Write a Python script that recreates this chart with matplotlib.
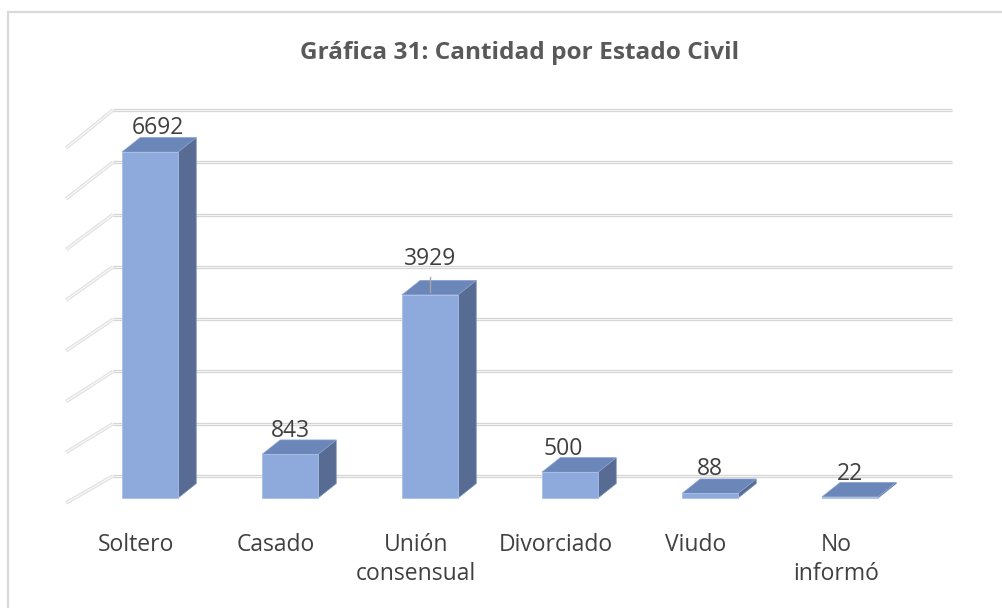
import numpy as np
import matplotlib.pyplot as plt
from matplotlib.patches import Rectangle

plt.rcParams['font.family'] = ['Open Sans', 'DejaVu Sans']

# data
categories = ['Soltero', 'Casado', 'Unión\nconsensual', 'Divorciado', 'Viudo', 'No\ninformó']
counts = [6692, 843, 3929, 500, 88, 22]
grid_vals = np.arange(0, 8000, 1000)

# colours of the fake 3d bars
FRONT = '#8eaadc'
TOP = '#6b86b9'
SIDE = '#586c93'
GRID = '#d6d6d6'
TXT = '#404040'

W, H = 1002, 608
fig = plt.figure(figsize=(W / 100, H / 100), dpi=100)
ax = fig.add_axes([0, 0, 1, 1])
# x: one unit per category (140 px), y: value units (0.0517 px per unit)
PXX = 140.0
PXY = 0.0517
ax.set_xlim((0 - 150) / PXX, (W - 150) / PXX)
ax.set_ylim((498 - H) / PXY, 498 / PXY)
ax.axis('off')

# walls: back wall grid + left side wall diagonals
back_x0, back_x1, front_x = -0.264, 5.73, -0.6
for v in grid_vals:
    yb = 425 + 1.0116 * v
    yf = -97 + 0.9807 * v
    for lw, c in [(2.4, GRID), (0.7, '#f4f4f4')]:
        ax.plot([back_x0, back_x1], [yb, yb], color=c, lw=lw, solid_capstyle='butt', zorder=1)
    for lw, c in [(2.6, '#e2e2e2'), (0.9, '#f7f7f7')]:
        ax.plot([front_x, back_x0], [yf, yb], color=c, lw=lw, solid_capstyle='butt', zorder=1)

# bars
bw = 0.4
dx, dy = 0.13, 280
for i, v in enumerate(counts):
    x0, x1 = i - bw / 2, i + bw / 2
    ax.fill([x1, x1 + dx, x1 + dx, x1], [0, dy, v + dy, v], color=SIDE, ec='#7086b0', lw=0.5, zorder=3)
    ax.fill([x0, x1, x1 + dx, x0 + dx], [v, v, v + dy, v + dy], color=TOP, ec='#8aa2cf', lw=0.5, zorder=3)
    ax.bar(i, v, width=bw, color=FRONT, edgecolor='#a9bfe6', linewidth=0.6, zorder=4)

# value labels (3929 sits higher with a leader line)
lift = [340, 330, 580, 330, 350, 330]
shift = [0.06, 0, 0, -0.05, 0, 0]
for i, v in enumerate(counts):
    ax.text(i + shift[i], v + lift[i], f'{v}', ha='center', va='baseline', fontsize=16.5, color=TXT, zorder=5)
    if lift[i] > 400:
        ax.plot([i, i], [v + 60, v + 350], color='#a6a6a6', lw=1, zorder=5)

# category labels
for i, lab in enumerate(categories):
    ax.text(i - 0.1, -670, lab, ha='center', va='top', fontsize=16.5, color=TXT, linespacing=1.3)

fig.text(0.519, 1 - 59 / H, 'Gráfica 31: Cantidad por Estado Civil', ha='center', va='baseline',
         fontsize=17.6, fontweight='bold', color='#595959')

# chart frame: only the left and top edges fall inside the picture
fig.patches.append(Rectangle((8 / W, -0.05), 1.1, 1 - 12 / H + 0.05, transform=fig.transFigure,
                             fill=False, ec='#d9d9d9', lw=1.6))

fig.savefig('out.png', dpi=100)
